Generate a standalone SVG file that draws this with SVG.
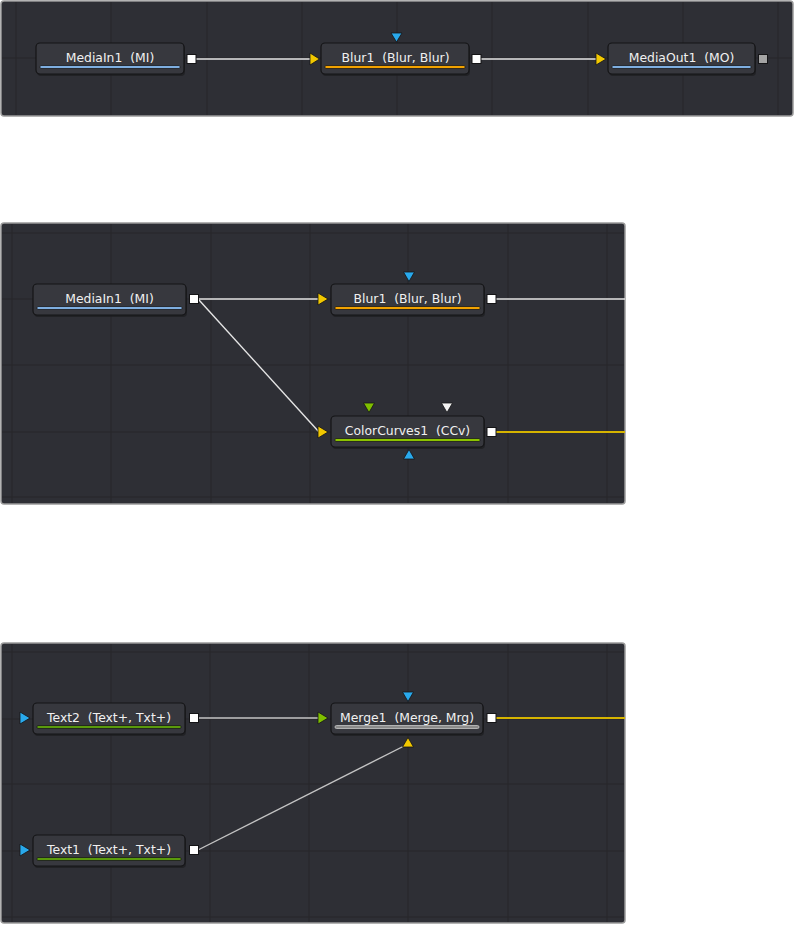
<svg xmlns="http://www.w3.org/2000/svg" width="795" height="925" viewBox="0 0 795 925">
<defs>
<style>
.panel{fill:#2e2f35;stroke:#9a9a9a;stroke-width:1.5}
.grid line{stroke:#26272b;stroke-width:1}
.node{fill:#37383e;stroke:#141416;stroke-width:1.2}
.shadow{fill:#1c1c20;opacity:0.7}
.lbl{font-family:"DejaVu Sans","Open Sans",sans-serif;font-size:12.4px;fill:#f0f0f0;text-anchor:middle;white-space:pre}
.bar{stroke:#1a1a1c;stroke-width:0.8}
.out{fill:#ffffff;stroke:#141416;stroke-width:1}
.tri{stroke:#141416;stroke-width:0.8}
.yel{fill:#f2c800}
.blu{fill:#29a9ec}
.grn{fill:#7fbf00}
.wht{fill:#f4f4f4}
.link{fill:none;stroke:#e6e6e6;stroke-width:1.4}
.glink{fill:none;stroke:#c4c4c4;stroke-width:1.4}
.ylink{fill:none;stroke:#d6b400;stroke-width:2}
</style>
</defs>

<!-- Panel 1 -->
<rect class="panel" x="1" y="1" width="792" height="115" rx="3"/>
<g class="grid">
<line x1="16" y1="2" x2="16" y2="115"/><line x1="111" y1="2" x2="111" y2="115"/><line x1="207" y1="2" x2="207" y2="115"/><line x1="302" y1="2" x2="302" y2="115"/><line x1="397" y1="2" x2="397" y2="115"/><line x1="492" y1="2" x2="492" y2="115"/><line x1="588" y1="2" x2="588" y2="115"/><line x1="683" y1="2" x2="683" y2="115"/><line x1="778" y1="2" x2="778" y2="115"/>
<line x1="2" y1="58" x2="792" y2="58"/>
</g>

<!-- Panel 2 -->
<rect class="panel" x="1" y="223" width="624" height="281" rx="3"/>
<g class="grid">
<line x1="12" y1="224" x2="12" y2="503"/><line x1="111" y1="224" x2="111" y2="503"/><line x1="211" y1="224" x2="211" y2="503"/><line x1="310" y1="224" x2="310" y2="503"/><line x1="408" y1="224" x2="408" y2="503"/><line x1="508" y1="224" x2="508" y2="503"/><line x1="607" y1="224" x2="607" y2="503"/>
<line x1="2" y1="233" x2="624" y2="233"/><line x1="2" y1="299" x2="624" y2="299"/><line x1="2" y1="365" x2="624" y2="365"/><line x1="2" y1="432" x2="624" y2="432"/><line x1="2" y1="497" x2="624" y2="497"/>
</g>

<!-- Panel 3 -->
<rect class="panel" x="1" y="643" width="624" height="280" rx="3"/>
<g class="grid">
<line x1="12" y1="644" x2="12" y2="922"/><line x1="111" y1="644" x2="111" y2="922"/><line x1="210" y1="644" x2="210" y2="922"/><line x1="309" y1="644" x2="309" y2="922"/><line x1="408" y1="644" x2="408" y2="922"/><line x1="508" y1="644" x2="508" y2="922"/><line x1="607" y1="644" x2="607" y2="922"/>
<line x1="2" y1="652" x2="624" y2="652"/><line x1="2" y1="719" x2="624" y2="719"/><line x1="2" y1="784" x2="624" y2="784"/><line x1="2" y1="851" x2="624" y2="851"/><line x1="2" y1="917" x2="624" y2="917"/>
</g>

<!-- Connectors -->
<g id="connectors">
<line class="link" x1="195" y1="59" x2="311" y2="59"/>
<line class="link" x1="481" y1="59" x2="597" y2="59"/>
<line class="link" x1="198" y1="299" x2="319" y2="299"/>
<line class="link" x1="199" y1="300" x2="319" y2="432"/>
<line class="link" x1="496" y1="299" x2="625" y2="299"/>
<line class="ylink" x1="496" y1="432" x2="625" y2="432"/>
<line class="glink" x1="198" y1="718" x2="319" y2="718"/>
<line class="glink" x1="198" y1="850" x2="408" y2="744"/>
<line class="ylink" x1="496" y1="718" x2="625" y2="718"/>
</g>

<!-- Panel 1 nodes -->
<g id="p1-mediain1">
<rect class="shadow" x="37" y="45" width="148" height="31" rx="4"/>
<rect class="node" x="36" y="43" width="148" height="31" rx="4"/>
<text class="lbl" x="110" y="61.5">MediaIn1  (MI)</text>
<rect class="bar" x="40" y="65.5" width="140" height="3" rx="1" fill="#7eaee0"/>
<rect class="out" x="187" y="54.5" width="9" height="9"/>
</g>
<g id="p1-blur1">
<rect class="shadow" x="322" y="45" width="148" height="31" rx="4"/>
<rect class="node" x="321" y="43" width="148" height="31" rx="4"/>
<text class="lbl" x="395.5" y="61.5">Blur1  (Blur, Blur)</text>
<rect class="bar" x="325" y="65.5" width="140" height="3" rx="1" fill="#f2a200"/>
<polygon class="tri yel" points="310,53 310,65 319.5,59"/>
<polygon class="tri blu" points="391,33 402,33 396.5,42"/>
<rect class="out" x="472" y="54.5" width="9" height="9"/>
</g>
<g id="p1-mediaout1">
<rect class="shadow" x="609" y="45" width="147" height="31" rx="4"/>
<rect class="node" x="608" y="43" width="147" height="31" rx="4"/>
<text class="lbl" x="681.5" y="61.5">MediaOut1  (MO)</text>
<rect class="bar" x="612" y="65.5" width="139" height="3" rx="1" fill="#7eaee0"/>
<polygon class="tri yel" points="596,53 596,65 606,59"/>
<rect x="758.5" y="54.5" width="9" height="9" fill="#a4a4a4" stroke="#141416" stroke-width="1"/>
</g>

<!-- Panel 2 nodes -->
<g id="p2-mediain1">
<rect class="shadow" x="34" y="286" width="153" height="31" rx="4"/>
<rect class="node" x="33" y="284" width="153" height="31" rx="4"/>
<text class="lbl" x="109.5" y="302.5">MediaIn1  (MI)</text>
<rect class="bar" x="37" y="306.5" width="145" height="3" rx="1" fill="#7eaee0"/>
<rect class="out" x="189.5" y="294.5" width="9" height="9"/>
</g>
<g id="p2-blur1">
<rect class="shadow" x="332" y="286" width="153" height="31" rx="4"/>
<rect class="node" x="331" y="284" width="153" height="31" rx="4"/>
<text class="lbl" x="407.5" y="302.5">Blur1  (Blur, Blur)</text>
<rect class="bar" x="335" y="306.5" width="145" height="3" rx="1" fill="#f2a200"/>
<polygon class="tri yel" points="318,293 318,305 328,299"/>
<polygon class="tri blu" points="403.5,272 414.5,272 409,281.5"/>
<rect class="out" x="487" y="294.5" width="9" height="9"/>
</g>
<g id="p2-colorcurves1">
<rect class="shadow" x="332" y="418" width="153" height="31" rx="4"/>
<rect class="node" x="331" y="416" width="153" height="31" rx="4"/>
<text class="lbl" x="407.5" y="434.5">ColorCurves1  (CCv)</text>
<rect class="bar" x="335" y="438.5" width="145" height="3" rx="1" fill="#8cc400"/>
<polygon class="tri yel" points="318,426 318,438 328,432"/>
<polygon class="tri grn" points="363.5,403 374.5,403 369,412.5"/>
<polygon class="tri wht" points="441.5,403 452.5,403 447,412.5"/>
<polygon class="tri blu" points="403.5,459 414.5,459 409,449.5"/>
<rect class="out" x="487" y="427.5" width="9" height="9"/>
</g>

<!-- Panel 3 nodes -->
<g id="p3-text2">
<rect class="shadow" x="34" y="705" width="152" height="31" rx="4"/>
<rect class="node" x="33" y="703" width="152" height="31" rx="4"/>
<text class="lbl" x="109" y="721.5">Text2  (Text+, Txt+)</text>
<rect class="bar" x="37" y="725.5" width="144" height="3" rx="1" fill="#5a9a0c"/>
<polygon class="tri blu" points="20,712 20,724 30,718"/>
<rect class="out" x="189.5" y="713.5" width="9" height="9"/>
</g>
<g id="p3-merge1">
<rect class="shadow" x="332" y="705" width="152" height="31" rx="4"/>
<rect class="node" x="331" y="703" width="152" height="31" rx="4"/>
<text class="lbl" x="407" y="721.5">Merge1  (Merge, Mrg)</text>
<rect x="335" y="725.5" width="144" height="3" rx="1.5" fill="#8a8a8a" stroke="#c6c6c6" stroke-width="0.8"/>
<polygon class="tri grn" points="318,712 318,724 328,718"/>
<polygon class="tri blu" points="402.5,692 413.5,692 408,701.5"/>
<polygon class="tri yel" points="402.5,747 413.5,747 408,737.5"/>
<rect class="out" x="487" y="713.5" width="9" height="9"/>
</g>
<g id="p3-text1">
<rect class="shadow" x="34" y="837" width="152" height="31" rx="4"/>
<rect class="node" x="33" y="835" width="152" height="31" rx="4"/>
<text class="lbl" x="109" y="853.5">Text1  (Text+, Txt+)</text>
<rect class="bar" x="37" y="857.5" width="144" height="3" rx="1" fill="#5a9a0c"/>
<polygon class="tri blu" points="20,844 20,856 30,850"/>
<rect class="out" x="189.5" y="845.5" width="9" height="9"/>
</g>
</svg>
